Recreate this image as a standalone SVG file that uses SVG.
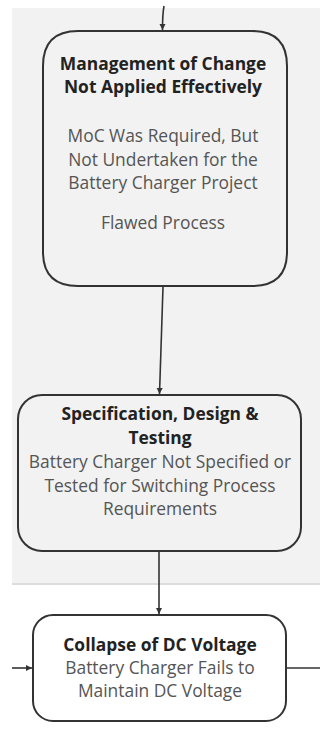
<svg xmlns="http://www.w3.org/2000/svg" width="320" height="749" viewBox="0 0 320 749">
  <style>
    .box { stroke: #333; stroke-width: 2; }
    .title { font-family: "Open Sans", "Liberation Sans", sans-serif; font-size: 17.4px; font-weight: bold; fill: #222; text-anchor: middle; }
    .body { font-family: "Open Sans", "Liberation Sans", sans-serif; font-size: 17.4px; fill: #555; text-anchor: middle; }
    .conn { stroke: #333; stroke-width: 1.6; fill: none; }
  </style>
  <defs>
    <marker id="arrow" markerWidth="8" markerHeight="8" refX="7" refY="4" orient="auto" markerUnits="userSpaceOnUse">
      <path d="M1,1 L7,4 L1,7 Z" fill="#333"/>
    </marker>
  </defs>

  <rect width="320" height="749" fill="#ffffff"/>
  <!-- shaded panel -->
  <rect x="12" y="8" width="308" height="576" fill="#f2f2f2"/>
  <line x1="12" y1="584" x2="320" y2="584" stroke="#dcdcdc" stroke-width="2"/>

  <g id="connectors">
    <path class="conn" d="M164,6 Q162.5,14 162.5,30" marker-end="url(#arrow)"/>
    <path class="conn" d="M163,287 L159.5,394" marker-end="url(#arrow)"/>
    <path class="conn" d="M159,551 L159,614" marker-end="url(#arrow)"/>
    <path class="conn" d="M12,668 L32,668" marker-end="url(#arrow)"/>
    <path class="conn" d="M274,668 L320,668"/>
  </g>

  <g id="node-moc">
    <path class="box" fill="#f2f2f2" d="M78,31 L252,31 Q287,31 287,66 L287,252 Q287,286 252,286 L78,286 Q43,286 43,252 L43,66 Q43,31 78,31 Z"/>
    <text class="title" x="163" y="70">Management of Change</text>
    <text class="title" x="163" y="93">Not Applied Effectively</text>
    <text class="body" x="163" y="142">MoC Was Required, But</text>
    <text class="body" x="163" y="166">Not Undertaken for the</text>
    <text class="body" x="163" y="189">Battery Charger Project</text>
    <text class="body" x="163" y="229">Flawed Process</text>
  </g>

  <g id="node-spec">
    <rect class="box" fill="#f2f2f2" x="18" y="395" width="283" height="156" rx="24" ry="24"/>
    <text class="title" x="160" y="420">Specification, Design &amp;</text>
    <text class="title" x="160" y="444">Testing</text>
    <text class="body" x="160" y="468">Battery Charger Not Specified or</text>
    <text class="body" x="160" y="492">Tested for Switching Process</text>
    <text class="body" x="160" y="515">Requirements</text>
  </g>

  <g id="node-collapse">
    <rect class="box" fill="#ffffff" x="33" y="615" width="253" height="106" rx="20" ry="20"/>
    <text class="title" x="160" y="651">Collapse of DC Voltage</text>
    <text class="body" x="160" y="674">Battery Charger Fails to</text>
    <text class="body" x="160" y="697">Maintain DC Voltage</text>
  </g>
</svg>
